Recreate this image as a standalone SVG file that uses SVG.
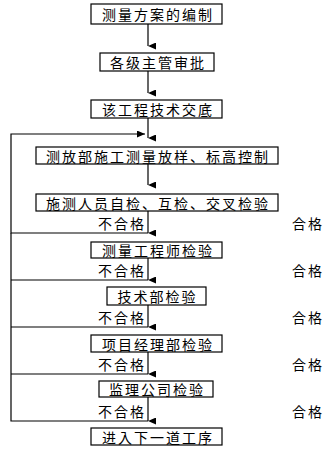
<svg xmlns="http://www.w3.org/2000/svg" width="328" height="455" viewBox="0 0 328 455">
<style>
.box{fill:#fff;stroke:#000;stroke-width:1.2}
.t{font-family:"Noto Sans CJK JP","Noto Sans CJK SC",sans-serif;font-size:14px;letter-spacing:2px;fill:#000}
.c{text-anchor:middle;dominant-baseline:central}
.ln{stroke:#000;stroke-width:1.2;fill:none}
</style>
<defs>
<marker id="ah" markerUnits="userSpaceOnUse" markerWidth="7" markerHeight="8" viewBox="0 0 7 8" refX="3.5" refY="8" orient="auto-start-reverse">
<path d="M0,0 L7,0 L3.5,8 Z" fill="#000"/>
</marker>
<marker id="ar" markerUnits="userSpaceOnUse" markerWidth="8" markerHeight="7" viewBox="0 0 8 7" refX="8" refY="3.5" orient="0">
<path d="M0,0 L8,3.5 L0,7 Z" fill="#000"/>
</marker>
</defs>
<g id="connectors">
<line class="ln" x1="148" y1="24" x2="148" y2="46" marker-end="url(#ah)"/>
<line class="ln" x1="148" y1="71" x2="148" y2="93" marker-end="url(#ah)"/>
<line class="ln" x1="148" y1="118" x2="148" y2="138" marker-end="url(#ah)"/>
<line class="ln" x1="148" y1="164" x2="148" y2="185" marker-end="url(#ah)"/>
<line class="ln" x1="148" y1="211" x2="148" y2="233" marker-end="url(#ah)"/>
<line class="ln" x1="148" y1="258" x2="148" y2="280" marker-end="url(#ah)"/>
<line class="ln" x1="148" y1="305" x2="148" y2="327" marker-end="url(#ah)"/>
<line class="ln" x1="148" y1="352" x2="148" y2="374" marker-end="url(#ah)"/>
<line class="ln" x1="148" y1="397" x2="148" y2="421" marker-end="url(#ah)"/>
<polyline class="ln" points="148,233 11,233 11,134 145,134" marker-end="url(#ar)"/>
<line class="ln" x1="11" y1="280" x2="148" y2="280"/>
<line class="ln" x1="11" y1="327" x2="148" y2="327"/>
<line class="ln" x1="11" y1="374" x2="148" y2="374"/>
<polyline class="ln" points="148,421 11,421 11,233"/>
</g>
<g id="n1"><rect class="box" x="91" y="4" width="131" height="20"/><text class="t c" x="158" y="14">测量方案的编制</text></g>
<g id="n2"><rect class="box" x="100" y="53" width="114" height="18"/><text class="t c" x="158" y="62">各级主管审批</text></g>
<g id="n3"><rect class="box" x="91" y="100" width="131" height="18"/><text class="t c" x="158" y="109">该工程技术交底</text></g>
<g id="n4"><rect class="box" x="36" y="147" width="242" height="17"/><text class="t c" x="158" y="155.5">测放部施工测量放样、标高控制</text></g>
<g id="n5"><rect class="box" x="36" y="194" width="242" height="17"/><text class="t c" x="158" y="202.5">施测人员自检、互检、交叉检验</text></g>
<g id="n6"><rect class="box" x="91" y="242" width="131" height="16"/><text class="t c" x="158" y="250">测量工程师检验</text></g>
<g id="n7"><rect class="box" x="107" y="287" width="99" height="18"/><text class="t c" x="157.5" y="296">技术部检验</text></g>
<g id="n8"><rect class="box" x="91" y="335" width="131" height="17"/><text class="t c" x="158" y="343.5">项目经理部检验</text></g>
<g id="n9"><rect class="box" x="99" y="381" width="114" height="16"/><text class="t c" x="157" y="389">监理公司检验</text></g>
<g id="n10"><rect class="box" x="91" y="428" width="131" height="17"/><text class="t c" x="158" y="436.5">进入下一道工序</text></g>
<g id="labels">
<text class="t" x="98" y="229">不合格</text><text class="t" x="292" y="229">合格</text>
<text class="t" x="98" y="276">不合格</text><text class="t" x="292" y="276">合格</text>
<text class="t" x="98" y="323">不合格</text><text class="t" x="292" y="323">合格</text>
<text class="t" x="98" y="370">不合格</text><text class="t" x="292" y="370">合格</text>
<text class="t" x="98" y="417">不合格</text><text class="t" x="292" y="417">合格</text>
</g>
</svg>
